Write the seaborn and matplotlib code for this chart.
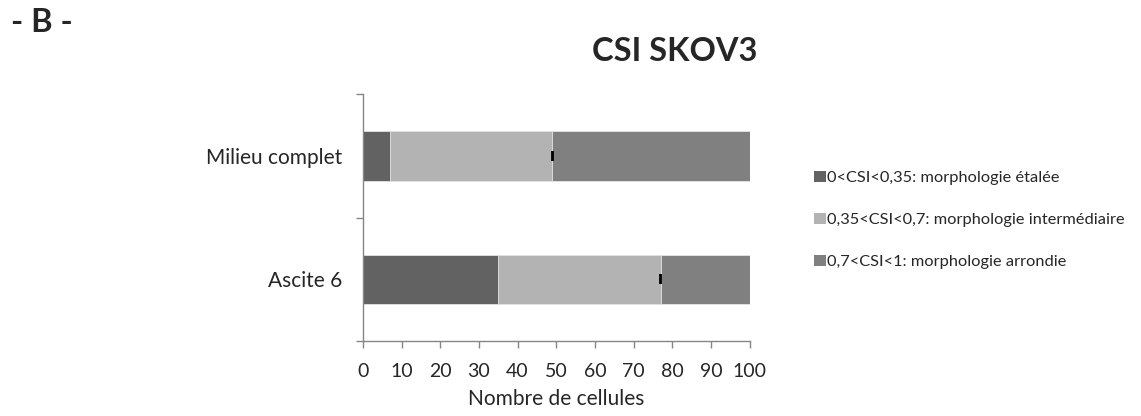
import matplotlib
matplotlib.use("Agg")
import matplotlib.pyplot as plt
import seaborn as sns
import pandas as pd
from matplotlib.patches import Patch

# data (number of cells, %)
conditions = ["Milieu complet", "Ascite 6"]
etalee = [7, 35]
intermediaire = [42, 42]
arrondie = [51, 23]
labels = ["0<CSI<0,35: morphologie étalée",
          "0,35<CSI<0,7: morphologie intermédiaire",
          "0,7<CSI<1: morphologie arrondie"]
colors = ["#626262", "#b3b3b3", "#808080"]

df = pd.DataFrame({"cond": conditions, "a": etalee, "b": intermediaire, "c": arrondie})
df["cum1"] = df["a"]
df["cum2"] = df["a"] + df["b"]
df["cum3"] = df["a"] + df["b"] + df["c"]

sns.set_style("white")
plt.rcParams["font.family"] = ["Lato", "DejaVu Sans"]

fig = plt.figure(figsize=(11.41, 4.16), dpi=100)
ax = fig.add_axes([0.318, 0.180, 0.339, 0.593])

# stacked bars: draw the cumulative totals from back to front
for col, c in zip(["cum3", "cum2", "cum1"], colors[::-1]):
    sns.barplot(data=df, x=col, y="cond", orient="h", color=c, width=0.4,
                edgecolor="#e6e6e6", linewidth=0.6, saturation=1, ax=ax)

# tiny error bars at the end of the middle segment
ax.errorbar(df["cum2"], range(len(df)), xerr=0.05, fmt="none",
            ecolor="black", capsize=3.6, capthick=1.3, elinewidth=0.8)

ax.set_xlim(0, 100)
ax.set_ylim(1.5, -0.5)
ax.set_xticks(range(0, 101, 10))
ax.set_yticks([0, 1])
ax.set_yticklabels(conditions)
ax.set_yticks([-0.5, 0.5, 1.5], minor=True)
ax.tick_params(axis="y", which="major", length=0, pad=15, labelsize=15)
ax.tick_params(axis="y", which="minor", length=5, width=1, color="#868686", direction="out", left=True)
ax.tick_params(axis="x", length=5, width=1, color="#868686", direction="out", bottom=True,
               pad=11, labelsize=14)
ax.set_xlabel("Nombre de cellules", fontsize=15, labelpad=6)
ax.set_ylabel("")
sns.despine(ax=ax)
for s in ["left", "bottom"]:
    ax.spines[s].set_color("#868686")
    ax.spines[s].set_linewidth(1)

fig.text(0.5916, 0.877, "CSI SKOV3", ha="center", va="center", fontsize=23.5, fontweight="bold")
fig.text(0.01, 0.945, "- B -", ha="left", va="center", fontsize=23.5, fontweight="bold")

handles = [Patch(facecolor=c, edgecolor="none") for c in colors]
fig.legend(handles, labels, loc="center left", bbox_to_anchor=(0.7135, 0.471), frameon=False,
           fontsize=11.8, handlelength=0.7, handleheight=0.7, handletextpad=0.1,
           labelspacing=1.68, borderaxespad=0, borderpad=0)

fig.savefig("out.png", dpi=100)
